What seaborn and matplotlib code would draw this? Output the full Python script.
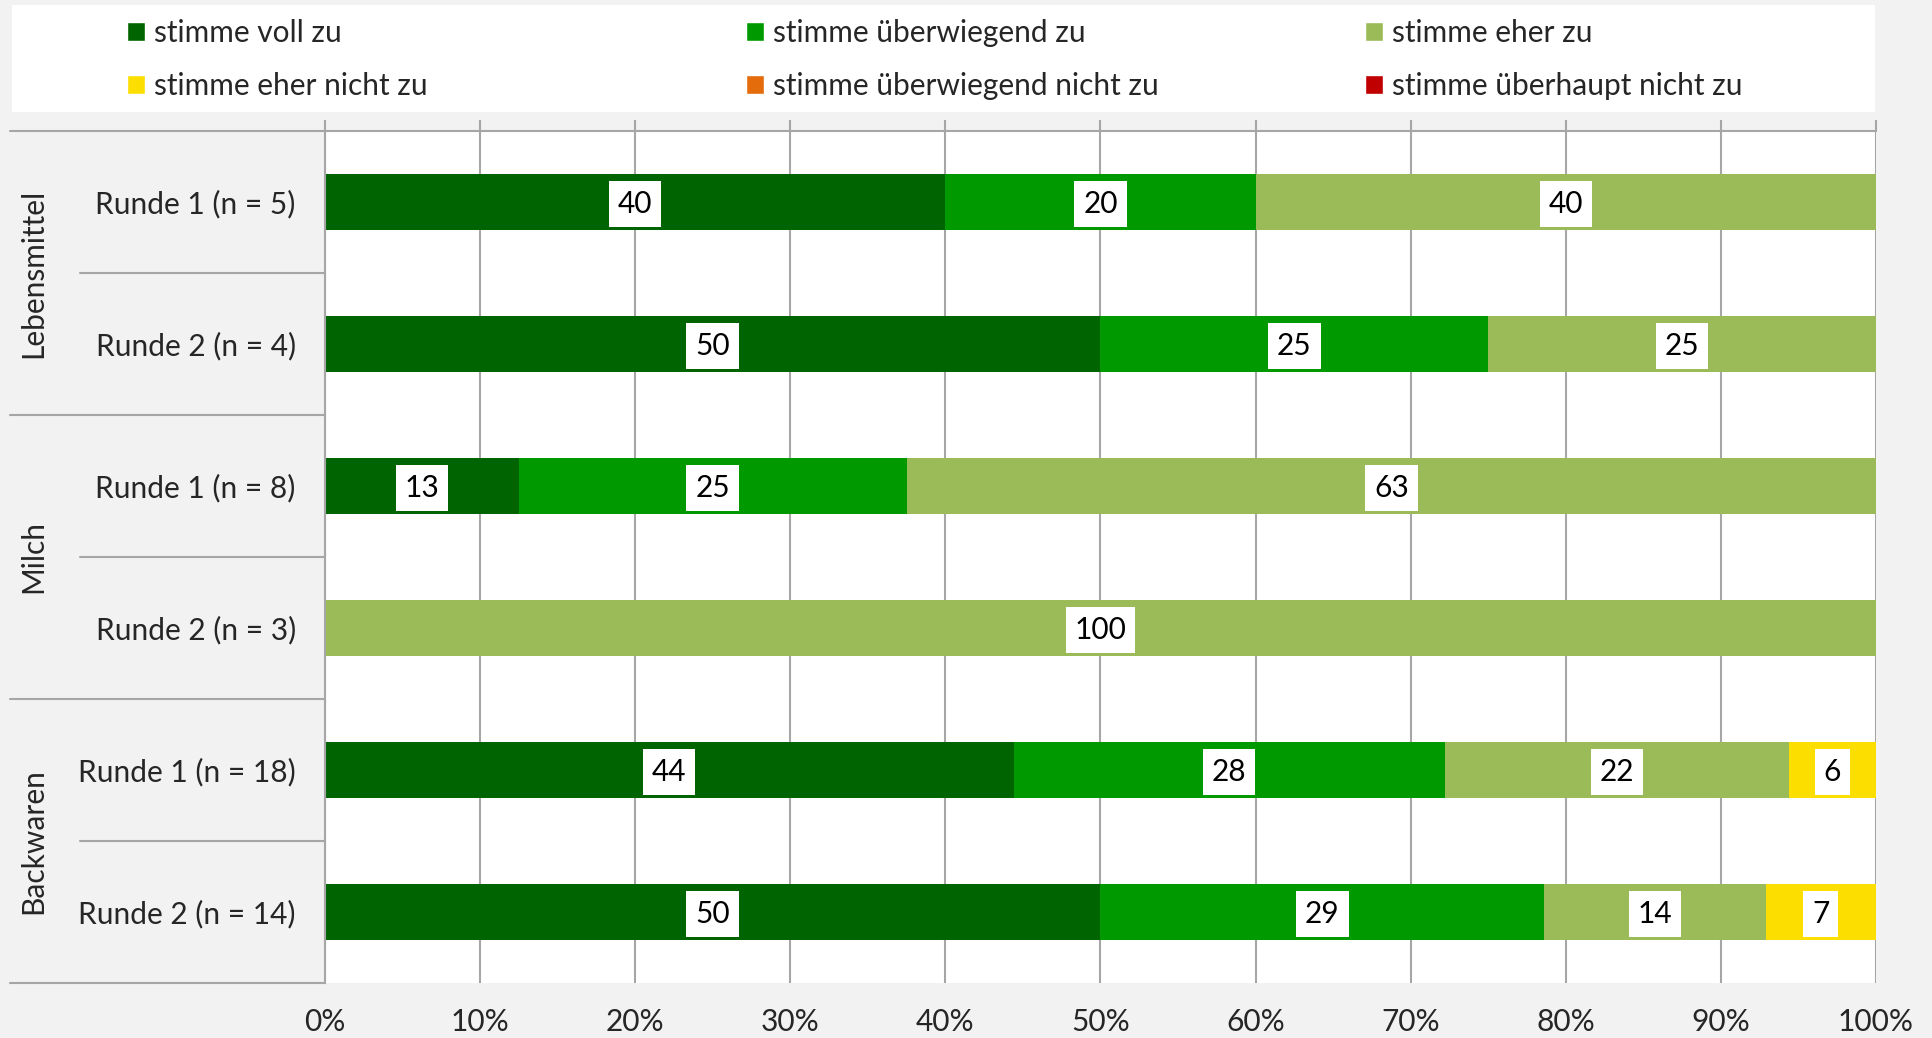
import matplotlib
matplotlib.use("Agg")
import matplotlib.pyplot as plt
from matplotlib.patches import Patch, Rectangle
from matplotlib import transforms
import seaborn as sns

# Daten (Anteile in %)
zeilen = ["Runde 1 (n = 5)", "Runde 2 (n = 4)",
          "Runde 1 (n = 8)", "Runde 2 (n = 3)",
          "Runde 1 (n = 18)", "Runde 2 (n = 14)"]
gruppen = ["Lebensmittel", "Milch", "Backwaren"]

kategorien = ["stimme voll zu", "stimme überwiegend zu", "stimme eher zu",
              "stimme eher nicht zu", "stimme überwiegend nicht zu",
              "stimme überhaupt nicht zu"]
farben = ["#006400", "#009A00", "#9BBB59", "#FCDF00", "#E46C0A", "#C00000"]

voll_zu = [40, 50, 12.5, 0, 44.4, 50]
ueberwiegend_zu = [20, 25, 25, 0, 27.8, 28.6]
eher_zu = [40, 25, 62.5, 100, 22.2, 14.3]
eher_nicht_zu = [0, 0, 0, 0, 5.6, 7.1]
ueberwiegend_nicht_zu = [0, 0, 0, 0, 0, 0]
ueberhaupt_nicht_zu = [0, 0, 0, 0, 0, 0]

werte = [voll_zu, ueberwiegend_zu, eher_zu, eher_nicht_zu,
         ueberwiegend_nicht_zu, ueberhaupt_nicht_zu]
x_ticks = [0, 10, 20, 30, 40, 50, 60, 70, 80, 90, 100]

sns.set_style("white")
plt.rcParams["font.family"] = ["Lato", "DejaVu Sans"]
grau = "#A6A6A6"
fs = 21.5

fig = plt.figure(figsize=(19.33, 10.38), dpi=100, facecolor="#F2F2F2")
ax = fig.add_axes([0.1681, 0.0530, 0.8024, 0.8208])
ax.set_facecolor("white")

# kumulierte Summen, von hinten nach vorne zeichnen
kum = []
summe = [0] * len(zeilen)
for serie in werte:
    summe = [a + b for a, b in zip(summe, serie)]
    kum.append(summe)

for i in range(len(werte) - 1, -1, -1):
    sns.barplot(x=kum[i], y=zeilen, order=zeilen, orient="h", color=farben[i],
                saturation=1, width=0.4, linewidth=0, ax=ax)

# Datenbeschriftungen
for i, serie in enumerate(werte):
    for j, v in enumerate(serie):
        if v <= 0:
            continue
        mitte = kum[i][j] - v / 2
        ax.text(mitte, j + 0.015, str(int(v + 0.5)), ha="center", va="center",
                fontsize=fs, color="black",
                bbox=dict(boxstyle="square,pad=0.3", fc="white", ec="none"))

ax.set_xlim(0, 100)
ax.set_ylim(len(zeilen) - 0.5, -0.5)
ax.set_xticks(x_ticks)
ax.set_xticklabels([f"{t}%" for t in x_ticks], fontsize=fs)
ax.xaxis.grid(True, color=grau, linewidth=1.5)
ax.set_axisbelow(True)
ax.tick_params(axis="x", top=True, bottom=False, labeltop=False,
               labelbottom=True, direction="out", length=8, width=1.5,
               color=grau, pad=10)
ax.tick_params(axis="y", length=0, pad=21, labelsize=fs)
ax.set_xlabel("")
ax.set_ylabel("")
for s in ["right", "bottom"]:
    ax.spines[s].set_visible(False)
for s in ["top", "left"]:
    ax.spines[s].set_color(grau)
    ax.spines[s].set_linewidth(1.5)

# Gruppenachse links
trans = transforms.blended_transform_factory(ax.transAxes, ax.transData)
for yb in [-0.5, 1.5, 3.5, 5.5]:
    ax.plot([-0.203, 0], [yb, yb], color=grau, lw=1.5, transform=trans,
            clip_on=False)
for yb in [0.5, 2.5, 4.5]:
    ax.plot([-0.158, 0], [yb, yb], color=grau, lw=1.5, transform=trans,
            clip_on=False)
for k, g in enumerate(gruppen):
    ax.text(-0.188, 2 * k + 0.5, g, rotation=90, ha="center", va="center",
            fontsize=fs, transform=trans)

# Legende
fig.patches.append(Rectangle((12 / 1933, 1 - 112 / 1038), 1863 / 1933,
                             107 / 1038, transform=fig.transFigure,
                             facecolor="white", edgecolor="none", zorder=0))
spalten_x = [106 / 1933, 725 / 1933, 1344 / 1933]
for c in range(3):
    handles = [Patch(facecolor=farben[c], label=kategorien[c]),
               Patch(facecolor=farben[c + 3], label=kategorien[c + 3])]
    fig.legend(handles=handles, loc="upper left",
               bbox_to_anchor=(spalten_x[c], 1 + 2 / 1038), frameon=False,
               fontsize=fs, handlelength=0.6, handleheight=0.6,
               handletextpad=0.3, labelspacing=0.85, borderpad=0.2)

fig.savefig("out.png", dpi=100, facecolor=fig.get_facecolor())
